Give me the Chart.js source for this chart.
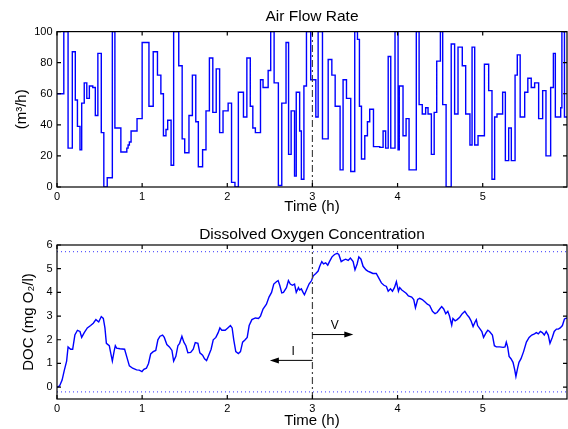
<!DOCTYPE html>
<html>
<head>
<meta charset="utf-8">
<script src="https://cdn.jsdelivr.net/npm/chart.js@4.4.1/dist/chart.umd.min.js"></script>
<style>
  html, body { margin: 0; padding: 0; background: #fff; }
  #wrap { position: relative; width: 568px; height: 429px; }
  #airChart { position: absolute; left: 0; top: 0; }
  #docChart { position: absolute; left: 0; top: 215px; }
</style>
</head>
<body>
<div id="wrap">
  <canvas id="airChart" width="568" height="215"></canvas>
  <canvas id="docChart" width="568" height="214"></canvas>
</div>
<script>
// data
const timeTicks = [0, 1, 2, 3, 4, 5]
const airTicks = [0, 20, 40, 60, 80, 100]
const docTicks = [0, 1, 2, 3, 4, 5, 6]
const timeEnd = 5.99
const switchTime = [3]

// air flow: step start times (h) and held value (m3/h)
const airTime = [
  0, 0.08, 0.13, 0.18, 0.215, 0.24, 0.27, 0.29, 0.32, 0.35,
  0.38, 0.42, 0.45, 0.48, 0.52, 0.55, 0.59, 0.65, 0.68, 0.75,
  0.82, 0.835, 0.85, 0.87, 0.94, 1.0, 1.08, 1.13, 1.18, 1.22,
  1.25, 1.28, 1.30, 1.34, 1.37, 1.43, 1.47, 1.50, 1.55, 1.59,
  1.63, 1.66, 1.71, 1.75, 1.79, 1.83, 1.87, 1.91, 1.95, 2.01,
  2.05, 2.09, 2.13, 2.19, 2.23, 2.27, 2.30, 2.33, 2.39, 2.42,
  2.48, 2.51, 2.55, 2.60, 2.64, 2.69, 2.72, 2.75, 2.79, 2.81,
  2.85, 2.87, 2.90, 2.93, 2.98, 3.04, 3.067, 3.118, 3.185, 3.228,
  3.267, 3.325, 3.36, 3.40, 3.45, 3.497, 3.529, 3.552, 3.576, 3.615,
  3.646, 3.673, 3.717, 3.791, 3.83, 3.86, 3.89, 3.92, 3.97, 4.006,
  4.02, 4.064, 4.10, 4.135, 4.22, 4.253, 4.29, 4.33, 4.358, 4.397,
  4.43, 4.46, 4.503, 4.53, 4.57, 4.63, 4.67, 4.71, 4.76, 4.80,
  4.85, 4.875, 4.906, 4.945, 5.02, 5.07, 5.109, 5.14, 5.168, 5.234,
  5.266, 5.305, 5.336, 5.38, 5.406, 5.44, 5.493, 5.53, 5.57, 5.61,
  5.657, 5.704, 5.743, 5.798, 5.83, 5.853, 5.916, 5.93, 5.96, 5.99
]
const airFlow = [
  60, 100, 25, 87, 56, 39, 24, 54, 67, 57,
  65, 64, 46, 86, 35, 0, 6, 100, 38, 22.5,
  25, 27, 29, 36, 44, 93, 52, 87, 72, 60,
  33, 37, 43, 14, 100, 78, 31, 22, 46, 72,
  42, 13, 24, 49, 83, 48, 76, 35, 49, 54,
  3, 0, 61, 45, 83, 52, 38, 35, 69, 64,
  75, 100, 67, 1, 54, 93, 21, 49, 7, 61,
  36, 5, 65, 100, 69, 45, 100, 31, 82, 72,
  52, 11, 69, 57, 10, 100, 95, 52, 18, 33,
  42, 50, 26, 25.5, 36, 25, 84, 25, 100, 24,
  65, 33, 44, 11, 100, 53, 47, 51, 47, 21,
  48, 81, 100, 53, 0, 92, 47, 90, 78, 47,
  27, 90, 27, 33, 79, 62, 5, 45, 47, 61,
  17, 38, 17, 72, 85, 45, 61, 70, 64, 67,
  44, 62, 20, 64, 86, 45, 51, 100, 45, 45
]

// dissolved oxygen (mg O2/l)
const docTime = [
  0, 0.03, 0.06, 0.085, 0.113, 0.13, 0.16, 0.184, 0.21, 0.24,
  0.27, 0.29, 0.32, 0.356, 0.395, 0.426, 0.457, 0.49, 0.52, 0.544,
  0.563, 0.58, 0.614, 0.633, 0.65, 0.67, 0.685, 0.7, 0.74, 0.794,
  0.818, 0.85, 0.888, 0.935, 0.966, 0.998, 1.02, 1.05, 1.075, 1.1,
  1.13, 1.16, 1.185, 1.21, 1.24, 1.26, 1.29, 1.32, 1.35, 1.37,
  1.396, 1.42, 1.44, 1.467, 1.49, 1.514, 1.537, 1.57, 1.6, 1.624,
  1.655, 1.678, 1.71, 1.733, 1.757, 1.788, 1.81, 1.835, 1.866, 1.893,
  1.913, 1.936, 1.975, 2.006, 2.037, 2.057, 2.076, 2.1, 2.13, 2.155,
  2.18, 2.21, 2.234, 2.257, 2.289, 2.33, 2.367, 2.39, 2.42, 2.46,
  2.49, 2.52, 2.546, 2.577, 2.597, 2.616, 2.64, 2.66, 2.695, 2.718,
  2.74, 2.765, 2.79, 2.81, 2.836, 2.85, 2.87, 2.89, 2.906, 2.93,
  2.96, 2.99, 3.01, 3.04, 3.067, 3.086, 3.11, 3.13, 3.156, 3.18,
  3.2, 3.23, 3.26, 3.29, 3.31, 3.338, 3.36, 3.39, 3.42, 3.446,
  3.478, 3.5, 3.525, 3.545, 3.57, 3.595, 3.63, 3.65, 3.68, 3.71,
  3.75, 3.78, 3.81, 3.84, 3.869, 3.89, 3.917, 3.94, 3.963, 3.986,
  4.01, 4.025, 4.05, 4.07, 4.104, 4.127, 4.166, 4.19, 4.21, 4.236,
  4.26, 4.29, 4.32, 4.35, 4.377, 4.41, 4.44, 4.464, 4.495, 4.518,
  4.542, 4.566, 4.59, 4.61, 4.636, 4.65, 4.676, 4.7, 4.73, 4.76,
  4.79, 4.817, 4.84, 4.863, 4.887, 4.91, 4.925, 4.94, 4.97, 4.99,
  5.01, 5.04, 5.06, 5.08, 5.114, 5.137, 5.16, 5.2, 5.24, 5.262,
  5.277, 5.293, 5.31, 5.332, 5.356, 5.375, 5.39, 5.41, 5.426, 5.45,
  5.48, 5.513, 5.545, 5.576, 5.608, 5.63, 5.653, 5.677, 5.7, 5.723,
  5.746, 5.77, 5.79, 5.817, 5.84, 5.866, 5.888, 5.91, 5.936, 5.96,
  5.99
]
const docValue = [
  0, 0.05, 0.3, 0.7, 1.1, 1.7, 1.6, 1.6, 2.2, 2.4,
  2.35, 2.1, 2.3, 2.5, 2.6, 2.7, 2.85, 2.75, 2.98, 2.9,
  2.5, 1.85, 1.75, 1.4, 1.1, 1.5, 1.75, 1.65, 1.62, 1.6,
  1.3, 0.9, 0.8, 0.73, 0.72, 0.66, 0.75, 0.8, 1.0, 1.4,
  1.5, 1.55, 2.0, 2.15, 2.2, 2.1, 1.8, 1.7, 1.55, 1.1,
  1.3, 1.75, 1.85, 2.15, 1.9, 1.75, 1.45, 1.47, 1.6, 1.88,
  1.85, 1.45, 1.35, 1.2, 1.12, 1.4, 1.6, 2.0, 2.1, 2.3,
  2.5, 2.4, 2.4, 2.5, 2.6, 2.5, 2.0, 1.5, 1.42, 1.5,
  1.9, 2.0, 2.1, 2.6, 2.85, 2.92, 2.9, 3.0, 3.3, 3.5,
  3.8, 4.0, 4.35, 4.45, 4.5, 4.3, 3.98, 4.0, 4.2, 4.5,
  4.35, 4.3, 4.35, 4.0, 4.2, 4.1, 4.15, 4.0, 3.9, 4.1,
  4.35, 4.5, 4.7, 4.8, 4.9, 5.1, 5.3, 5.2, 5.25, 5.15,
  5.3, 5.5, 5.6, 5.65, 5.6, 5.3, 5.35, 5.4, 5.35, 5.45,
  5.3, 4.95, 5.2, 5.5, 5.4, 5.1, 4.95, 4.9, 4.85, 4.8,
  4.8, 4.6, 4.4, 4.3, 4.25, 4.05, 4.15, 4.05, 4.2, 4.45,
  4.05, 4.2, 4.1, 4.05, 3.95, 3.85, 3.8, 3.7, 3.35, 3.7,
  3.75, 3.7, 3.6, 3.5, 3.45, 3.2, 3.1, 3.15, 3.3, 3.4,
  3.3, 3.1, 3.2, 3.0, 2.62, 2.9, 2.8, 2.85, 2.95, 3.1,
  3.2, 3.05, 2.95, 2.8, 2.56, 2.75, 2.85, 2.6, 2.45, 2.35,
  2.1, 2.3, 2.4, 2.35, 2.2, 1.75, 1.7, 1.7, 1.68, 1.7,
  1.9, 1.7, 1.3, 1.2, 1.05, 0.75, 0.45, 0.8, 1.05, 1.2,
  1.5, 1.9, 2.1, 2.2, 2.25, 2.3, 2.25, 2.35, 2.3, 2.2,
  2.35, 2.2, 1.85, 2.1, 2.35, 2.45, 2.45, 2.5, 2.6, 2.88,
  2.92
]
const docLimits = [-0.2, 5.72]

// I / V arrows off the switch time
const arrowLabels = ['I', 'V']
const arrowEnd = [2.5, 3.48]
const arrowLevel = [1.13, 2.22]

const font = "'Liberation Sans', Arial, Helvetica, sans-serif"
Chart.defaults.font.family = font
Chart.defaults.color = '#000'

const pts = (xs, ys) => xs.map((t, i) => ({ x: t, y: ys[i] }))
const setTicks = arr => s => { s.ticks = arr.map(v => ({ value: v })) }

// closed box with ticks pointing inwards
const boxPlugin = {
    id: 'box',
    afterDatasetsDraw(chart) {
        const { ctx, chartArea: a, scales: { x, y } } = chart
        ctx.save()
        ctx.strokeStyle = '#000'
        ctx.lineWidth = 1.2
        ctx.strokeRect(a.left, a.top, a.right - a.left, a.bottom - a.top)
        ctx.beginPath()
        x.ticks.forEach(t => {
            const px = x.getPixelForValue(t.value)
            ctx.moveTo(px, a.bottom); ctx.lineTo(px, a.bottom - 4)
            ctx.moveTo(px, a.top); ctx.lineTo(px, a.top + 4)
        })
        y.ticks.forEach(t => {
            const py = y.getPixelForValue(t.value)
            ctx.moveTo(a.left, py); ctx.lineTo(a.left + 4, py)
            ctx.moveTo(a.right, py); ctx.lineTo(a.right - 4, py)
        })
        ctx.stroke()
        ctx.restore()
    }
}

const arrowPlugin = {
    id: 'arrows',
    afterDatasetsDraw(chart) {
        const { ctx, scales: { x, y } } = chart
        ctx.save()
        ctx.strokeStyle = '#000'
        ctx.fillStyle = '#000'
        ctx.lineWidth = 1
        ctx.font = '12px ' + font
        ctx.textAlign = 'center'
        ctx.textBaseline = 'middle'
        arrowLabels.forEach((lab, i) => {
            const x0 = x.getPixelForValue(switchTime[0])
            const x1 = x.getPixelForValue(arrowEnd[i])
            const py = y.getPixelForValue(arrowLevel[i])
            const dir = Math.sign(x1 - x0)
            ctx.beginPath()
            ctx.moveTo(x0, py); ctx.lineTo(x1 - dir * 6, py)
            ctx.stroke()
            ctx.beginPath()
            ctx.moveTo(x1, py)
            ctx.lineTo(x1 - dir * 9, py - 3)
            ctx.lineTo(x1 - dir * 9, py + 3)
            ctx.closePath()
            ctx.fill()
            ctx.fillText(lab, (x0 + x1) / 2 + 2, py - 9)
        })
        ctx.restore()
    }
}

function axes(yMin, yMax, yTicks, yTitle, yTitlePad, xHeight) {
    return {
        x: {
            type: 'linear', min: 0, max: timeEnd,
            afterBuildTicks: setTicks(timeTicks),
            afterFit: s => { s.height = xHeight },
            grid: { display: false, drawTicks: false }, border: { display: false },
            ticks: { font: { size: 11 }, padding: 3, color: '#000' },
            title: { display: true, text: 'Time (h)', font: { size: 15, lineHeight: 1 }, padding: { top: 0, bottom: 0.5 }, color: '#000' }
        },
        y: {
            min: yMin, max: yMax,
            afterBuildTicks: setTicks(yTicks),
            afterFit: s => { s.width = 57 },
            grid: { display: false, drawTicks: false }, border: { display: false },
            ticks: { font: { size: 11 }, padding: 4.5, color: '#000' },
            title: { display: true, text: yTitle, font: { size: 15, lineHeight: 1 }, padding: { top: yTitlePad, bottom: 0 }, color: '#000' }
        }
    }
}

function plugins(title, padTop, padBottom) {
    return {
        legend: { display: false },
        tooltip: { enabled: false },
        title: {
            display: true, text: title, fullSize: false, color: '#000',
            font: { size: 15.5, weight: 'normal' },
            padding: { top: padTop, bottom: padBottom }
        }
    }
}

const switchLine = (lo, hi) => ({
    data: [{ x: switchTime[0], y: lo }, { x: switchTime[0], y: hi }],
    borderColor: '#444', borderWidth: 1.2, borderDash: [7, 3, 2, 3],
    pointRadius: 0
})

new Chart(document.getElementById('airChart'), {
    type: 'line',
    data: {
        datasets: [
            switchLine(0, 100),
            {
                data: pts(airTime, airFlow),
                stepped: true,
                borderColor: '#0000ff', borderWidth: 1.4,
                pointRadius: 0
            }
        ]
    },
    options: {
        responsive: false, animation: false, events: [],
        layout: { padding: { left: 0, right: 1, top: 0, bottom: 0 } },
        scales: axes(0, 100, airTicks, '(m³/h)', 14.5, 28),
        plugins: plugins('Air Flow Rate', 7.7, 5.3)
    },
    plugins: [boxPlugin]
})

new Chart(document.getElementById('docChart'), {
    type: 'line',
    data: {
        datasets: [
            ...docLimits.map(v => ({
                data: [{ x: 0, y: v }, { x: timeEnd, y: v }],
                borderColor: '#5c5cff', borderWidth: 1.2, borderDash: [1, 3],
                pointRadius: 0
            })),
            switchLine(-0.5, 6),
            {
                data: pts(docTime, docValue),
                borderColor: '#0000ff', borderWidth: 1.4,
                pointRadius: 0, tension: 0
            }
        ]
    },
    options: {
        responsive: false, animation: false, events: [],
        layout: { padding: { left: 0, right: 1, top: 0, bottom: 0 } },
        scales: axes(-0.5, 6, docTicks, 'DOC (mg O₂/l)', 21, 30),
        plugins: plugins('Dissolved Oxygen Concentration', 10.7, 0.7)
    },
    plugins: [boxPlugin, arrowPlugin]
})
</script>
</body>
</html>
